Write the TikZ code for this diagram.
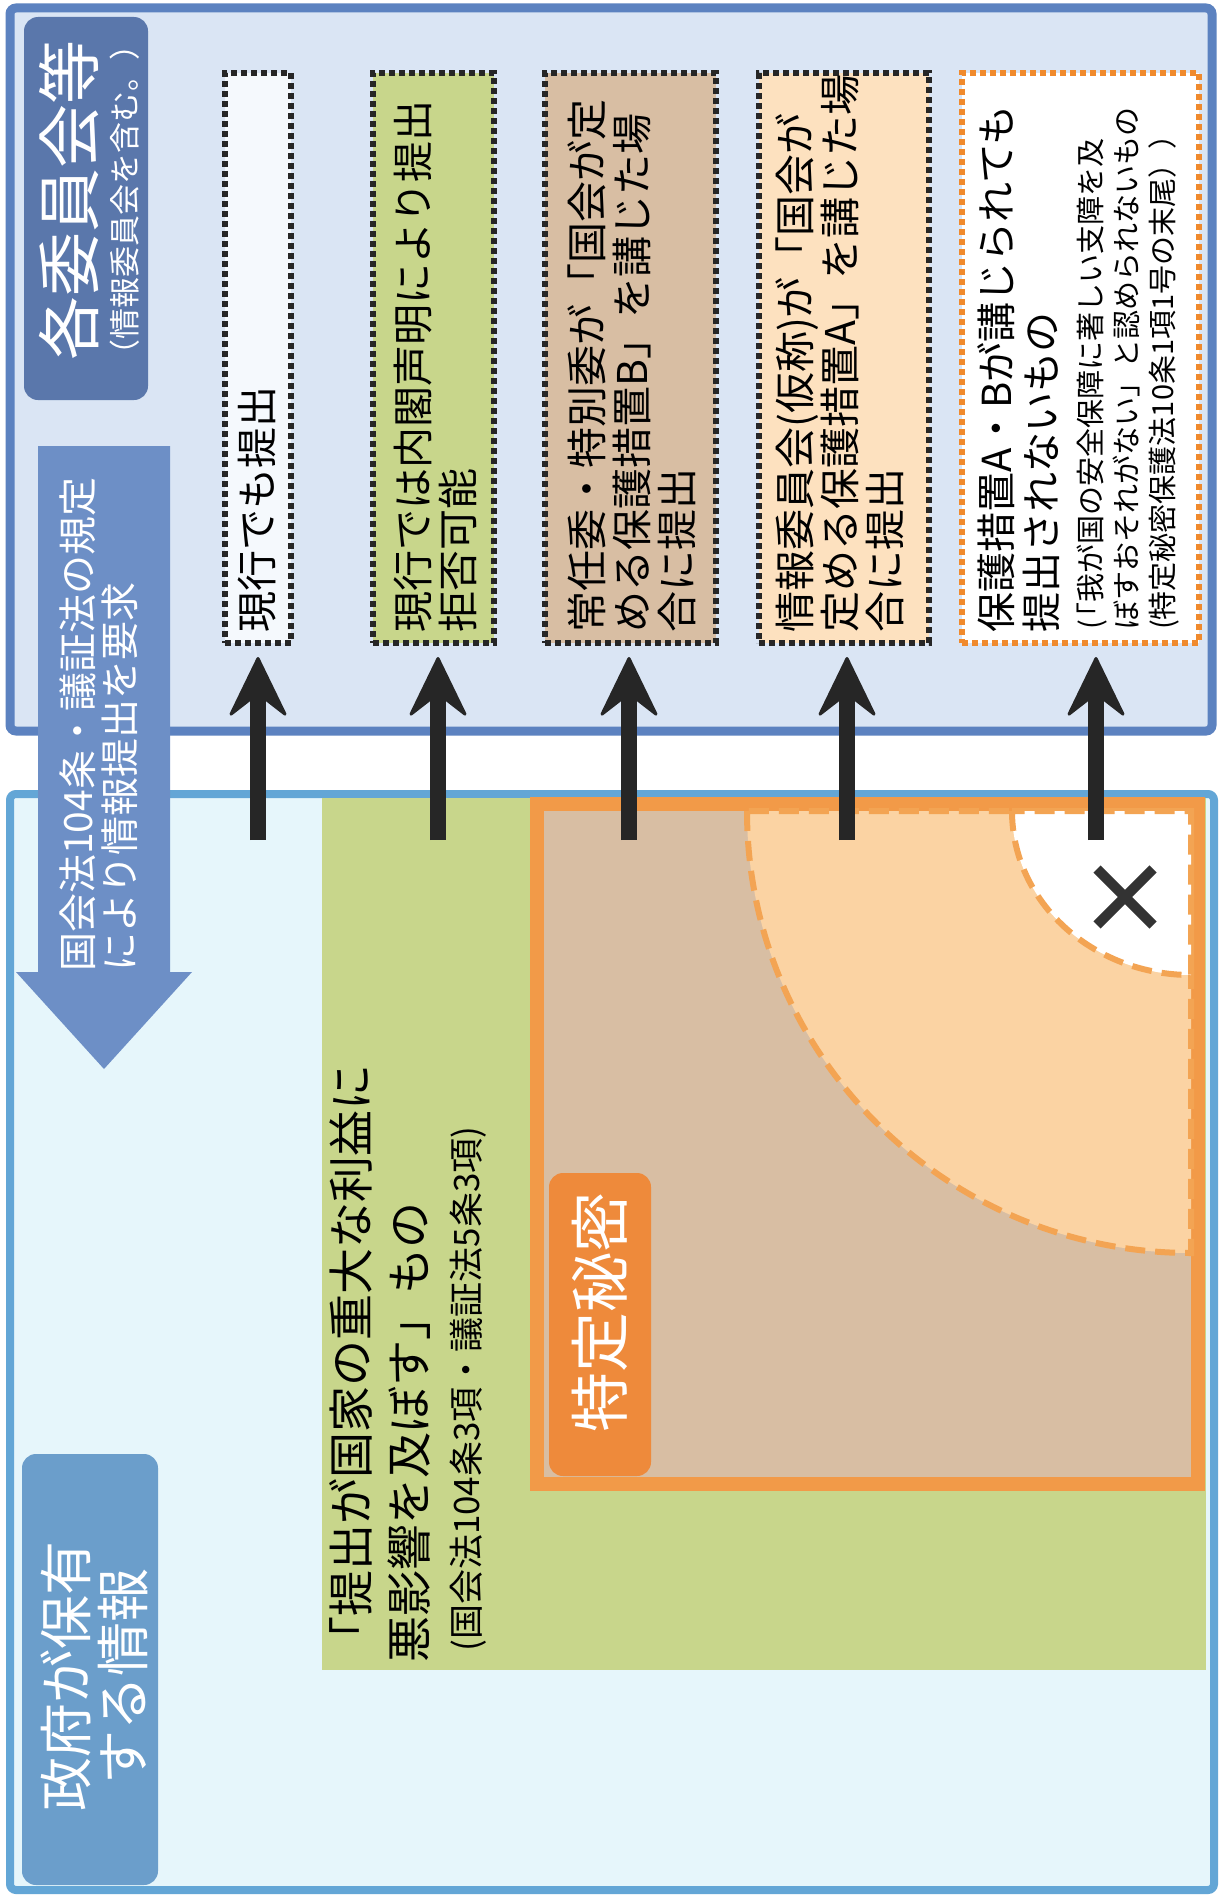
\documentclass[tikz,border=0pt]{standalone}
\usepackage{fontspec}
\newfontfamily\jp{Noto Sans CJK JP}
\usetikzlibrary{arrows.meta}
\definecolor{topfill}{HTML}{DAE5F4}
\definecolor{topdraw}{HTML}{5C82C0}
\definecolor{botfill}{HTML}{E6F6FB}
\definecolor{botdraw}{HTML}{63A6D6}
\definecolor{headtop}{HTML}{5A77AB}
\definecolor{headbot}{HTML}{6B9ECB}
\definecolor{reqblue}{HTML}{6D8FC6}
\definecolor{grn}{HTML}{C8D68B}
\definecolor{tanfill}{HTML}{D8BEA3}
\definecolor{oframe}{HTML}{F29A48}
\definecolor{peach}{HTML}{FBD3A3}
\definecolor{peachbox}{HTML}{FDE1BF}
\definecolor{tokucol}{HTML}{EE8A3B}
\definecolor{dashor}{HTML}{F3A453}
\definecolor{dotor}{HTML}{F08A2D}
\definecolor{ink}{HTML}{262626}
\definecolor{boxone}{HTML}{F5F9FD}
\definecolor{xmark}{HTML}{333333}
\begin{document}
\begin{tikzpicture}[x=1pt,y=-1pt,
  vtxt/.style={rotate=90,inner sep=0pt,anchor=north west,align=left},
  ctxt/.style={rotate=90,inner sep=0pt,align=center,text=white},
  dbox/.style={draw=ink,line width=6pt,dash pattern=on 6pt off 4pt,minimum height=570pt,inner sep=0pt},
  uparrow/.style={draw=ink,line width=16pt,-{Stealth[length=64pt,width=62pt,inset=24pt,line width=3pt,round]},shorten >=11pt},
  headbox/.style={rounded corners=14pt,inner sep=0pt},
  arcline/.style={draw=dashor,line width=6pt,dash pattern=on 20pt off 10pt}
]
\useasboundingbox (0,0) rectangle (1224,1900);
\fill[white] (0,0) rectangle (1224,1900);

% bottom panel
\draw[botdraw,line width=8pt,fill=botfill,rounded corners=6pt] (10,794) rectangle (1214,1890);
\fill[grn] (322,798) rectangle (1206,1670);
\draw[oframe,line width=14pt,fill=tanfill] (537,804) rectangle (1198,1484);
\path[arcline,fill=peach] (747,811) arc[start angle=180,end angle=270,x radius=444pt,y radius=442pt] -- (1191,811) -- cycle;
\path[arcline,fill=white] (1012,811) arc[start angle=180,end angle=270,x radius=179pt,y radius=164pt] -- (1191,811) -- cycle;
\draw[xmark,line width=10pt] (1097,869) -- (1153,925) (1097,925) -- (1153,869);

\node[headbox,fill=tokucol,minimum width=102pt,minimum height=303pt] (toku) at (600,1324.5) {};
\node[ctxt,font=\jp\fontsize{60}{60}\selectfont] (tokuT) at (600,1312) {特定秘密};

\node[vtxt,font=\jp\fontsize{46}{58}\selectfont] (g1) at (329,1663) {「提出が国家の重大な利益に\\悪影響を及ぼす」もの};
\node[vtxt,font=\jp\fontsize{35}{35}\selectfont] (g2) at (449.5,1652) {(国会法104条3項・議証法5条3項)};

\node[headbox,fill=headbot,minimum width=136pt,minimum height=431pt] (seifu) at (90,1669.5) {};
\node[ctxt,font=\jp\fontsize{54}{57}\selectfont] (seifuT) at (94,1676) {政府が保有\\する情報};

% top panel
\draw[topdraw,line width=9pt,fill=topfill,rounded corners=6pt] (10,8) rectangle (1212,731);
\node[headbox,fill=headtop,minimum width=124pt,minimum height=383pt] (iinkai) at (86,208.5) {};
\node[ctxt,font=\jp\fontsize{64}{64}\selectfont] (iinkaiT) at (69,200) {各委員会等};
\node[ctxt,font=\jp\fontsize{31}{31}\selectfont] (iinkaiS) at (125,200) {（情報委員会を含む。）};

\node[dbox,fill=boxone,minimum width=66pt] (b1) at (258,358) {};
\node[dbox,fill=grn,minimum width=121pt] (b2) at (433.5,358) {};
\node[dbox,fill=tanfill,minimum width=171pt] (b3) at (630.5,358) {};
\node[dbox,fill=peachbox,minimum width=170pt] (b4) at (844,358) {};
\node[dbox,draw=dotor,fill=white,minimum width=237pt] (b5) at (1080.5,358) {};

\node[vtxt,font=\jp\fontsize{41}{45}\selectfont] (t1) at (237.5,633) {現行でも提出};
\node[vtxt,font=\jp\fontsize{41}{45}\selectfont] (t2) at (393.5,633) {現行では内閣声明により提出\\拒否可能};
\node[vtxt,font=\jp\fontsize{41}{45}\selectfont] (t3) at (567.5,633) {常任委・特別委が「国会が定\\める保護措置B」を講じた場\\合に提出};
\node[vtxt,font=\jp\fontsize{41}{45}\selectfont] (t4) at (775.5,633) {情報委員会(仮称)が「国会が\\定める保護措置A」を講じた場\\合に提出};
\node[vtxt,font=\jp\fontsize{40}{45}\selectfont] (t5) at (977,633) {保護措置A・Bが講じられても\\提出されないもの};
\node[vtxt,font=\jp\fontsize{29}{36}\selectfont] (t5s) at (1077,630) {(\kern-0.4em「我が国の安全保障に著しい支障を及\\ぼすおそれがない」と認められないもの\\(特定秘密保護法10条1項1号の末尾））};

% request arrow
\fill[reqblue] (38,446) -- (170,446) -- (170,972) -- (192,972) -- (104,1069) -- (16,972) -- (38,972) -- cycle;
\node[vtxt,text=white,font=\jp\fontsize{39}{42}\selectfont] (reqT) at (59.5,972) {国会法104条・議証法の規定\\により情報提出を要求};

% arrows
\coordinate (a1) at (258,840);
\coordinate (a2) at (438,840);
\coordinate (a3) at (629,840);
\coordinate (a4) at (847,840);
\coordinate (a5) at (1096,840);
\draw[uparrow] (a1) -- (a1 |- b1.south);
\draw[uparrow] (a2) -- (a2 |- b2.south);
\draw[uparrow] (a3) -- (a3 |- b3.south);
\draw[uparrow] (a4) -- (a4 |- b4.south);
\draw[uparrow] (a5) -- (a5 |- b5.south);
\end{tikzpicture}
\end{document}
